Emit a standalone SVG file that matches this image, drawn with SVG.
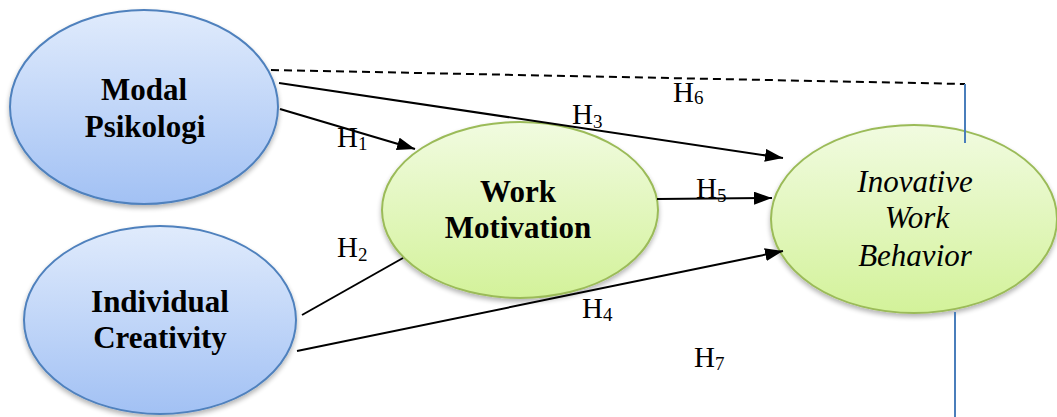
<svg xmlns="http://www.w3.org/2000/svg" width="1057" height="417" viewBox="0 0 1057 417">
<style>
.node-text{font-weight:bold;font-size:31px;fill:#000;text-anchor:middle}
.node-it{font-style:italic;font-size:31px;fill:#000;text-anchor:middle}
.lbl{font-size:29px;fill:#000}
.sub{font-size:19px}
.blue{fill:url(#gBlue);stroke:#4f81bd;stroke-width:2}
.green{fill:url(#gGreen);stroke:#9bbb59;stroke-width:2}
.arr{stroke:#000;stroke-width:2;fill:none}
.dash{stroke:#000;stroke-width:2;fill:none;stroke-dasharray:8 5}
.vline{stroke:#4a7ebb;stroke-width:2;fill:none}
</style>
<defs>
<linearGradient id="gBlue" x1="0" y1="0" x2="0" y2="1">
<stop offset="0" stop-color="#e0ebfc"/>
<stop offset="1" stop-color="#a2c1f4"/>
</linearGradient>
<linearGradient id="gGreen" x1="0" y1="0" x2="0" y2="1">
<stop offset="0" stop-color="#f1fbe0"/>
<stop offset="1" stop-color="#d3f29a"/>
</linearGradient>
<filter id="sh" x="-10%" y="-10%" width="120%" height="130%">
<feGaussianBlur in="SourceAlpha" stdDeviation="2.5"/>
<feOffset dx="0" dy="3" result="b"/>
<feComponentTransfer><feFuncA type="linear" slope="0.3"/></feComponentTransfer>
<feMerge><feMergeNode/><feMergeNode in="SourceGraphic"/></feMerge>
</filter>
<marker id="ah" markerUnits="userSpaceOnUse" markerWidth="20" markerHeight="14" refX="18" refY="6.5" orient="auto">
<path d="M0,0 L18,6.5 L0,13 z" fill="#000"/>
</marker>
</defs>

<g font-family="'Liberation Serif', 'DejaVu Serif', serif">
<g id="node-modal-psikologi">
<ellipse class="blue" cx="144" cy="107" rx="134" ry="97" filter="url(#sh)"/>
<text class="node-text" x="144" y="100">Modal</text>
<text class="node-text" x="145" y="137">Psikologi</text>
</g>

<g id="node-individual-creativity">
<ellipse class="blue" cx="160" cy="320" rx="136" ry="94" filter="url(#sh)"/>
<text class="node-text" x="160" y="312">Individual</text>
<text class="node-text" x="160" y="348">Creativity</text>
</g>

<g id="node-work-motivation">
<ellipse class="green" cx="520" cy="210" rx="138" ry="88" filter="url(#sh)"/>
<text class="node-text" x="518" y="202">Work</text>
<text class="node-text" x="518" y="238">Motivation</text>
</g>

<g id="node-inovative-work-behavior">
<ellipse class="green" cx="914" cy="219" rx="143" ry="94" filter="url(#sh)"/>
<text class="node-it" x="915" y="192">Inovative</text>
<text class="node-it" x="917" y="228">Work</text>
<text class="node-it" x="915" y="266">Behavior</text>
</g>

<g id="connectors">
<line class="arr" x1="280" y1="109" x2="415" y2="149" marker-end="url(#ah)"/>
<line class="arr" x1="302" y1="315" x2="403" y2="258"/>
<line class="arr" x1="279" y1="83" x2="783" y2="158" marker-end="url(#ah)"/>
<line class="arr" x1="297" y1="351" x2="783" y2="251" marker-end="url(#ah)"/>
<line class="arr" x1="657" y1="199" x2="772" y2="198" marker-end="url(#ah)"/>
<polyline class="dash" points="271,70 965,84"/>
<line class="vline" x1="965" y1="84" x2="965" y2="143"/>
<line class="vline" x1="955" y1="312" x2="955" y2="417"/>
</g>

<g id="labels">
<text class="lbl" x="337" y="147">H<tspan class="sub" dy="3">1</tspan></text>
<text class="lbl" x="337" y="257">H<tspan class="sub" dy="4">2</tspan></text>
<text class="lbl" x="572" y="124">H<tspan class="sub" dy="4">3</tspan></text>
<text class="lbl" x="582" y="318">H<tspan class="sub" dy="3">4</tspan></text>
<text class="lbl" x="696" y="198">H<tspan class="sub" dy="4">5</tspan></text>
<text class="lbl" x="673" y="102">H<tspan class="sub" dy="2">6</tspan></text>
<text class="lbl" x="694" y="367">H<tspan class="sub" dy="3">7</tspan></text>
</g>
</g>
</svg>
